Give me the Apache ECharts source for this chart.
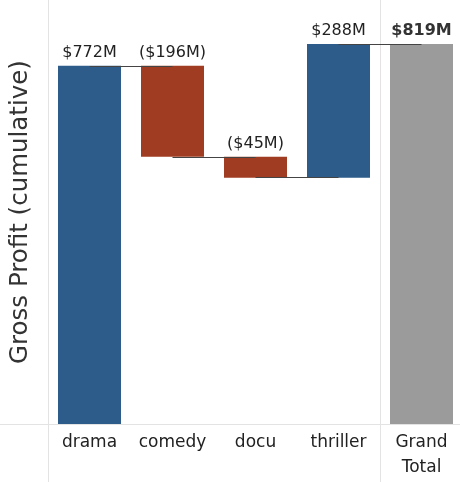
<!DOCTYPE html>
<html>
<head>
<meta charset="utf-8">
<script src="https://cdn.jsdelivr.net/npm/echarts@6/dist/echarts.min.js"></script>
<style>
  html, body { margin: 0; padding: 0; background: #fff; }
  #chart { width: 460px; height: 482px; }
</style>
</head>
<body>
<div id="chart"></div>
<script>
var categories = ["drama", "comedy", "docu", "thriller", "Grand\nTotal"]
var changes = [772, -196, -45, 288]
var grandTotal = 819

var blue = "#2d5c8a", red = "#a03c22", grey = "#9b9b9b"
var font = "DejaVu Sans"

// running totals -> invisible base + visible part of each bar
var baseData = [], barData = [], connectors = []
var running = 0
changes.forEach((v, i) => {
    let before = running
    running += v
    baseData.push(Math.min(before, running))
    barData.push({
        value: Math.abs(v),
        raw: v,
        itemStyle: { color: v >= 0 ? blue : red }
    })
    connectors.push([
        { coord: [categories[i], running] },
        { coord: [categories[i + 1], running] }
    ])
})
baseData.push(0)
barData.push({ value: grandTotal, raw: grandTotal, total: true, itemStyle: { color: grey } })

function money(v) {
    return v < 0 ? "($" + Math.abs(v) + "M)" : "$" + v + "M"
}

var chart = echarts.init(document.getElementById("chart"))
chart.setOption({
    animation: false,
    grid: { left: 48, top: 0, width: 415, bottom: 58, containLabel: false, outerBoundsMode: "none" },
    xAxis: {
        type: "category",
        data: categories,
        axisLine: { show: false },
        axisTick: { show: false },
        axisLabel: {
            color: "#222",
            fontFamily: font,
            fontSize: 17,
            lineHeight: 25,
            margin: 6,
            interval: 0
        }
    },
    yAxis: {
        type: "value",
        min: 0,
        max: 914,
        axisLine: { show: false },
        axisTick: { show: false },
        axisLabel: { show: false },
        splitLine: { show: false },
        name: "Gross Profit (cumulative)",
        nameLocation: "middle",
        nameRotate: 90,
        nameGap: 15,
        nameTextStyle: { color: "#333", fontFamily: font, fontSize: 24.5 }
    },
    graphic: [
        { type: "line", shape: { x1: 0, y1: 424.5, x2: 460, y2: 424.5 }, style: { stroke: "#e3e3e3", lineWidth: 1 }, z: 0 },
        { type: "line", shape: { x1: 48.5, y1: 0, x2: 48.5, y2: 482 }, style: { stroke: "#e3e3e3", lineWidth: 1 }, z: 0 },
        { type: "line", shape: { x1: 380.5, y1: 0, x2: 380.5, y2: 482 }, style: { stroke: "#e3e3e3", lineWidth: 1 }, z: 0 }
    ],
    series: [
        {
            type: "bar",
            stack: "w",
            data: baseData,
            barWidth: 63,
            itemStyle: { color: "transparent" },
            silent: true
        },
        {
            type: "bar",
            stack: "w",
            data: barData,
            barWidth: 63,
            label: {
                show: true,
                position: "top",
                distance: 5,
                fontFamily: font,
                fontSize: 16,
                color: "#222",
                formatter: p => p.data.total ? "{b|" + money(p.data.raw) + "}" : money(p.data.raw),
                rich: { b: { fontFamily: font, fontSize: 16, fontWeight: "bold", color: "#333" } }
            },
            markLine: {
                silent: true,
                symbol: "none",
                label: { show: false },
                lineStyle: { color: "#444", width: 1, type: "solid" },
                data: connectors
            }
        }
    ]
})
</script>
</body>
</html>
